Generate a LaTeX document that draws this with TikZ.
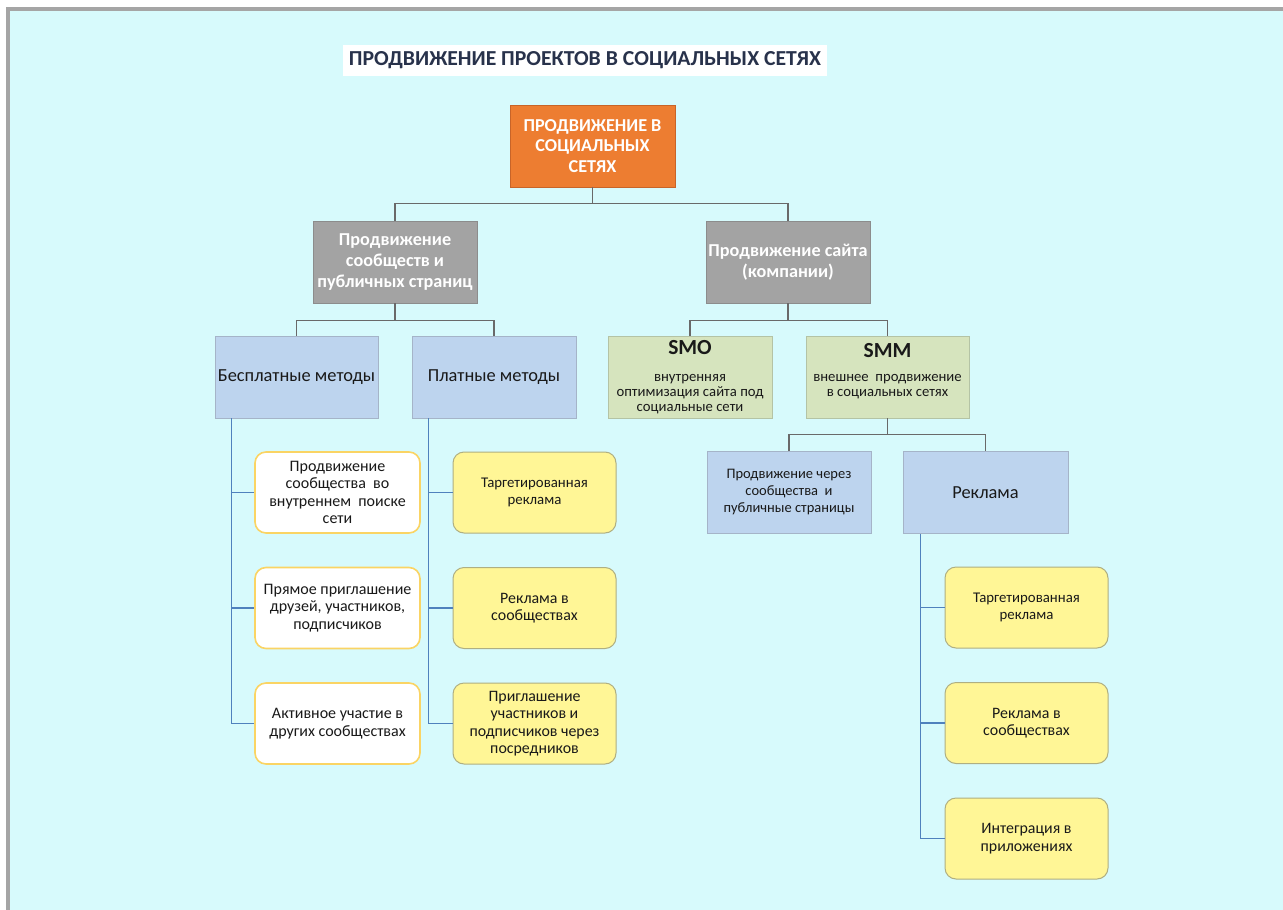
\documentclass[tikz,border=0pt]{standalone}
\usepackage{fontspec}
\setmainfont{Carlito}
\usetikzlibrary{calc}
\definecolor{bgcyan}{RGB}{215,250,252}
\definecolor{frameC}{RGB}{165,165,165}
\definecolor{orangeF}{RGB}{237,125,49}
\definecolor{orangeD}{RGB}{200,100,40}
\definecolor{grayF}{RGB}{163,163,163}
\definecolor{grayD}{RGB}{140,140,140}
\definecolor{blueF}{RGB}{189,212,238}
\definecolor{blueD}{RGB}{165,180,200}
\definecolor{greenF}{RGB}{214,228,190}
\definecolor{greenD}{RGB}{180,195,165}
\definecolor{yellowF}{RGB}{255,246,150}
\definecolor{yellowD}{RGB}{175,175,130}
\definecolor{whiteD}{RGB}{250,212,100}
\definecolor{lineG}{RGB}{105,105,105}
\definecolor{lineB}{RGB}{79,129,189}
\definecolor{titleC}{RGB}{40,50,75}
\definecolor{txtC}{RGB}{25,25,25}
\tikzset{
  basebox/.style={minimum width=164pt, minimum height=82pt, inner sep=2pt, align=center},
  obox/.style={basebox, fill=orangeF, draw=orangeD, line width=0.8pt, text=white,
    font=\fontsize{18.2}{20.5}\selectfont\bfseries},
  gbox/.style={basebox, fill=grayF, draw=grayD, line width=0.8pt, text=white,
    font=\fontsize{18.2}{20.8}\selectfont\bfseries},
  bbox/.style={basebox, fill=blueF, draw=blueD, line width=0.8pt, text=txtC,
    font=\fontsize{18.4}{21}\selectfont},
  bboxs/.style={bbox, font=\fontsize{14.5}{17}\selectfont},
  grbox/.style={basebox, fill=greenF, draw=greenD, line width=0.8pt, text=txtC,
    font=\fontsize{14.7}{15}\selectfont},
  wbox/.style={basebox, minimum height=81pt, rounded corners=11pt, fill=white, draw=whiteD,
    line width=1.6pt, text=txtC, font=\fontsize{16}{17.5}\selectfont},
  ybox/.style={basebox, minimum height=81pt, rounded corners=11pt, fill=yellowF, draw=yellowD,
    line width=1pt, text=txtC, font=\fontsize{15.9}{17.5}\selectfont},
  gline/.style={draw=lineG, line width=1.3pt},
  bline/.style={draw=lineB, line width=1.6pt},
  titlebox/.style={fill=white, minimum width=484pt, minimum height=31pt, inner sep=0pt, text=titleC}
}
\begin{document}
\begin{tikzpicture}[x=1pt, y=-1pt]
\useasboundingbox (0,0) rectangle (1283,910);
\fill[white] (0,0) rectangle (1283,910);
\fill[frameC] (6,7) rectangle (1283,910);
\fill[bgcyan] (10,11) rectangle (1283,910);

\node[titlebox] (title) at (585,60.5)
  {\resizebox{472pt}{14pt}{\fontsize{20}{24}\selectfont\bfseries ПРОДВИЖЕНИЕ ПРОЕКТОВ В СОЦИАЛЬНЫХ СЕТЯХ}};

\node[obox, minimum width=165pt] (root) at (592.5,146) {ПРОДВИЖЕНИЕ В\\СОЦИАЛЬНЫХ\\СЕТЯХ};

\node[gbox] (gA) at (395,262) {Продвижение\\сообществ и\\публичных страниц};
\node[gbox] (gB) at (788,262) {Продвижение сайта\\(компании)};

\node[bbox, minimum width=163pt] (free) at (296.5,377) {Бесплатные методы};
\node[bbox] (paid) at (494,377) {Платные методы};
\node[grbox] (smo) at (690,377) {{\fontsize{21.5}{23}\selectfont\bfseries SMO}\\[12pt]внутренняя\\оптимизация сайта под\\социальные сети};
\node[grbox, minimum width=163pt] (smm) at (887.5,377) {{\fontsize{21.5}{23}\selectfont\bfseries SMM}\\[9pt]внешнее\ \ продвижение\\в социальных сетях\\\mbox{}};

\node[bboxs] (comm) at (789,492.5) {Продвижение через\\сообщества\ \ и\\публичные страницы};
\node[bbox, minimum width=165pt] (adv) at (985.5,492.5) {Реклама};

\node[wbox, minimum width=165pt] (w1) at (337.5,492.5) {Продвижение\\сообщества\ \ во\\внутреннем\ \ поиске\\сети};
\node[wbox, minimum width=165pt] (w2) at (337.5,608) {Прямое приглашение\\друзей, участников,\\подписчиков};
\node[wbox, minimum width=165pt] (w3) at (337.5,723.5) {Активное участие в\\других сообществах};

\node[ybox, minimum width=163pt, font=\fontsize{14.8}{17.5}\selectfont] (p1) at (534.5,492.5) {Таргетированная\\реклама};
\node[ybox, minimum width=163pt] (p2) at (534.5,608) {Реклама в\\сообществах};
\node[ybox, minimum width=163pt] (p3) at (534.5,723.5) {Приглашение\\участников и\\подписчиков через\\посредников};

\node[ybox, minimum width=163pt, font=\fontsize{14.8}{17.5}\selectfont] (r1) at (1026.5,607.5) {Таргетированная\\реклама};
\node[ybox, minimum width=163pt] (r2) at (1026.5,723) {Реклама в\\сообществах};
\node[ybox, minimum width=163pt] (r3) at (1026.5,838.5) {Интеграция в\\приложениях};

% top-level connectors
\draw[gline] (root.south) -- ++(0,16) coordinate (j1) -| (gA.north);
\draw[gline] (j1) -| (gB.north);
\draw[gline] (gA.south) -- ++(0,17) coordinate (j2) -| (free.north);
\draw[gline] (j2) -| (paid.north);
\draw[gline] (gB.south) -- ++(0,17) coordinate (j3) -| (smo.north);
\draw[gline] (j3) -| (smm.north);
\draw[gline] (smm.south) -- ++(0,16) coordinate (j4) -| (comm.north);
\draw[gline] (j4) -| (adv.north);

% branch connectors
\coordinate (fb) at ([xshift=17pt]free.south west);
\draw[bline] (fb) |- (w3.west);
\draw[bline] (fb |- w1.west) -- (w1.west);
\draw[bline] (fb |- w2.west) -- (w2.west);

\coordinate (pb) at ([xshift=17pt]paid.south west);
\draw[bline] (pb) |- (p3.west);
\draw[bline] (pb |- p1.west) -- (p1.west);
\draw[bline] (pb |- p2.west) -- (p2.west);

\coordinate (ab) at ([xshift=18pt]adv.south west);
\draw[bline] (ab) |- (r3.west);
\draw[bline] (ab |- r1.west) -- (r1.west);
\draw[bline] (ab |- r2.west) -- (r2.west);
\end{tikzpicture}
\end{document}
